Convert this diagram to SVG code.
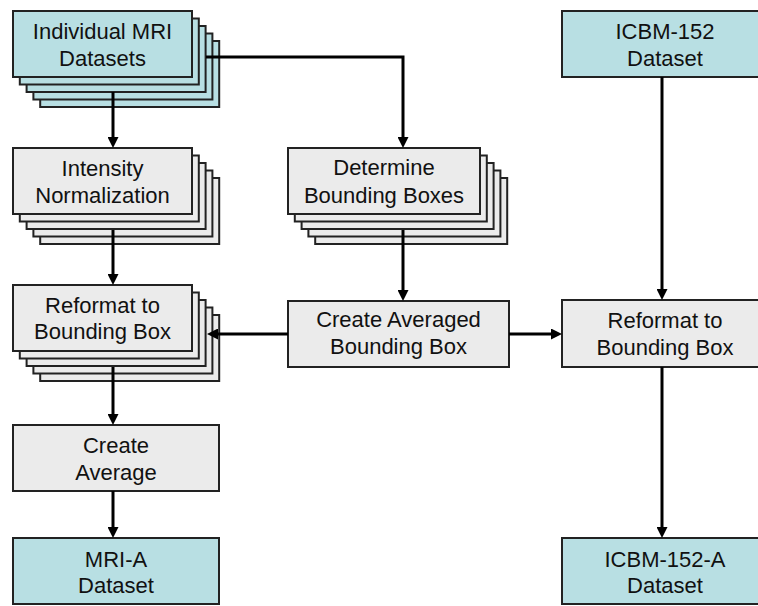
<svg xmlns="http://www.w3.org/2000/svg" width="758" height="606" viewBox="0 0 758 606">
<defs>
<style>
.teal{fill:#b8dfe3;stroke:#222;stroke-width:2}
.gray{fill:#ebebeb;stroke:#222;stroke-width:2}
.t{font-family:"Liberation Sans",Arial,sans-serif;font-size:22px;fill:#111;text-anchor:middle}
.c{fill:none;stroke:#000;stroke-width:3;marker-end:url(#ah)}
</style>
<marker id="ah" markerUnits="userSpaceOnUse" markerWidth="11" markerHeight="11" refX="2" refY="5.5" orient="auto">
<path d="M0,0 L11,5.5 L0,11 z" fill="#000"/>
</marker>
</defs>
<rect width="758" height="606" fill="#fff"/>

<g id="mri">
<rect class="teal" x="40.2" y="41" width="179" height="66"/>
<rect class="teal" x="33.4" y="33.5" width="179" height="66"/>
<rect class="teal" x="26.6" y="26" width="179" height="66"/>
<rect class="teal" x="19.8" y="18.5" width="179" height="66"/>
<rect class="teal" x="13" y="11" width="179" height="66"/>
<text class="t" x="102.5" y="39">Individual MRI</text>
<text class="t" x="102.5" y="66">Datasets</text>
</g>

<g id="intensity">
<rect class="gray" x="40.2" y="178" width="179" height="66"/>
<rect class="gray" x="33.4" y="170.5" width="179" height="66"/>
<rect class="gray" x="26.6" y="163" width="179" height="66"/>
<rect class="gray" x="19.8" y="155.5" width="179" height="66"/>
<rect class="gray" x="13" y="148" width="179" height="66"/>
<text class="t" x="102.5" y="176">Intensity</text>
<text class="t" x="102.5" y="203">Normalization</text>
</g>

<g id="reformatL">
<rect class="gray" x="40.2" y="315" width="179" height="66"/>
<rect class="gray" x="33.4" y="307.5" width="179" height="66"/>
<rect class="gray" x="26.6" y="300" width="179" height="66"/>
<rect class="gray" x="19.8" y="292.5" width="179" height="66"/>
<rect class="gray" x="13" y="285" width="179" height="66"/>
<text class="t" x="102.5" y="313">Reformat to</text>
<text class="t" x="102.5" y="339">Bounding Box</text>
</g>

<g id="determine">
<rect class="gray" x="315.2" y="178" width="192" height="66"/>
<rect class="gray" x="308.4" y="170.5" width="192" height="66"/>
<rect class="gray" x="301.6" y="163" width="192" height="66"/>
<rect class="gray" x="294.8" y="155.5" width="192" height="66"/>
<rect class="gray" x="288" y="148" width="192" height="66"/>
<text class="t" x="384" y="175">Determine</text>
<text class="t" x="384" y="203">Bounding Boxes</text>
</g>

<g id="createAveraged">
<rect class="gray" x="288" y="301" width="221" height="66"/>
<text class="t" x="398.5" y="327">Create Averaged</text>
<text class="t" x="398.5" y="354">Bounding Box</text>
</g>

<g id="icbm">
<rect class="teal" x="562" y="11" width="206" height="66"/>
<text class="t" x="665" y="39">ICBM-152</text>
<text class="t" x="665" y="66">Dataset</text>
</g>

<g id="reformatR">
<rect class="gray" x="562" y="300" width="206" height="67"/>
<text class="t" x="665" y="328">Reformat to</text>
<text class="t" x="665" y="355">Bounding Box</text>
</g>

<g id="createAverage">
<rect class="gray" x="13" y="425" width="206" height="66"/>
<text class="t" x="116" y="453">Create</text>
<text class="t" x="116" y="480">Average</text>
</g>

<g id="mriA">
<rect class="teal" x="13" y="538" width="206" height="66"/>
<text class="t" x="116" y="567">MRI-A</text>
<text class="t" x="116" y="593">Dataset</text>
</g>

<g id="icbmA">
<rect class="teal" x="562" y="538" width="206" height="66"/>
<text class="t" x="665" y="567">ICBM-152-A</text>
<text class="t" x="665" y="593">Dataset</text>
</g>

<g id="connectors">
<path class="c" d="M113,92 V139"/>
<path class="c" d="M206,57 H403 V139"/>
<path class="c" d="M113,230 V276"/>
<path class="c" d="M403,230 V292"/>
<path class="c" d="M288,334 H216"/>
<path class="c" d="M509,334 H553"/>
<path class="c" d="M662,77 V291"/>
<path class="c" d="M113,367 V416"/>
<path class="c" d="M113,491 V529"/>
<path class="c" d="M662,367 V529"/>
</g>
</svg>
